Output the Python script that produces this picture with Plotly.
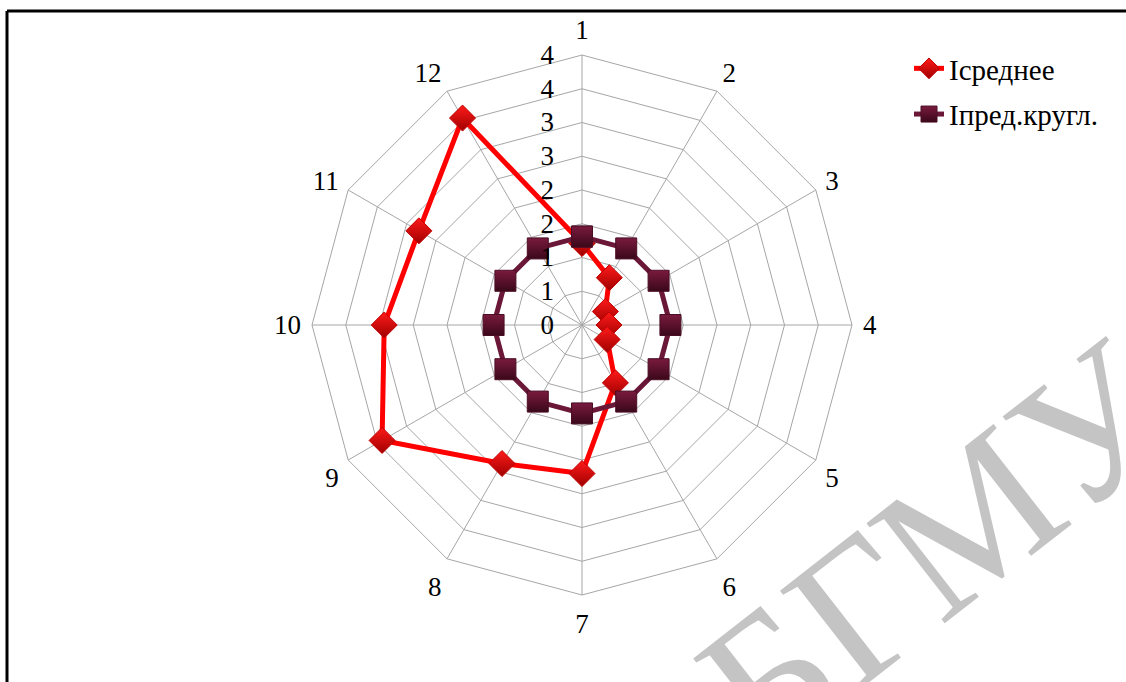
import plotly.graph_objects as go

categories = ["1", "2", "3", "4", "5", "6", "7", "8", "9", "10", "11", "12"]
i_srednee = [1.21, 0.81, 0.40, 0.40, 0.43, 0.99, 2.20, 2.37, 3.42, 2.93, 2.79, 3.54]
i_pred = [1.31, 1.31, 1.31, 1.31, 1.31, 1.31, 1.31, 1.31, 1.31, 1.31, 1.31, 1.31]
radial_tickvals = [0, 0.5, 1.0, 1.5, 2.0, 2.5, 3.0, 3.5, 4.0]
radial_ticktext = ["0", "1", "1", "2", "2", "3", "3", "4", "4"]
series_names = ["Iсреднее", "Iпред.кругл."]
watermark = "БГМУ"

W, H = 1126, 682
cx, cy, R = 582, 325, 270

theta_closed = categories + categories[:1]

fig = go.Figure()
fig.add_trace(go.Scatterpolar(
    r=i_srednee + i_srednee[:1], theta=theta_closed, name=series_names[0],
    mode="lines+markers",
    line=dict(color="#ff0000", width=5),
    marker=dict(symbol="diamond", size=20, color="#ff1a1a",
                gradient=dict(type="vertical", color="#a00000"),
                line=dict(color="#c00000", width=1)),
    legendgroup="a",
))
fig.add_trace(go.Scatterpolar(
    r=i_pred + i_pred[:1], theta=theta_closed, name=series_names[1],
    mode="lines+markers",
    line=dict(color="#6b1838", width=5),
    marker=dict(symbol="square", size=21, color="#7a1a3e",
                gradient=dict(type="vertical", color="#3a0819"),
                line=dict(color="#4a0e26", width=1)),
    legendgroup="b",
))

serif = "Liberation Serif"
fig.update_layout(
    width=W, height=H,
    margin=dict(l=0, r=0, t=0, b=0),
    paper_bgcolor="white",
    plot_bgcolor="white",
    showlegend=True,
    legend=dict(x=909 / W, y=1 - 43 / H, xanchor="left", yanchor="top",
                font=dict(family=serif, size=29, color="black"),
                bgcolor="rgba(0,0,0,0)", tracegroupgap=5, itemwidth=30),
    polar=dict(
        domain=dict(x=[(cx - R) / W, (cx + R) / W], y=[(H - cy - R) / H, (H - cy + R) / H]),
        bgcolor="white",
        gridshape="linear",
        angularaxis=dict(
            type="category", categoryarray=categories,
            rotation=90, direction="clockwise",
            showline=True, linecolor="#a6a6a6", linewidth=1,
            gridcolor="#a6a6a6", gridwidth=1,
            ticks="outside", ticklen=5, tickcolor="rgba(0,0,0,0)",
            tickfont=dict(family=serif, size=27, color="black"),
        ),
        radialaxis=dict(
            range=[0, 4], angle=90, tickangle=90,
            tickvals=radial_tickvals, ticktext=radial_ticktext,
            showline=False, gridcolor="#a6a6a6", gridwidth=1,
            ticks="outside", ticklen=18, tickcolor="rgba(0,0,0,0)",
            side="counterclockwise",
            tickfont=dict(family=serif, size=27, color="black"),
        ),
    ),
    shapes=[
        dict(type="line", xref="paper", yref="paper", x0=7 / W, x1=1.0, y0=1 - 11 / H, y1=1 - 11 / H,
             line=dict(color="black", width=3)),
        dict(type="line", xref="paper", yref="paper", x0=7 / W, x1=7 / W, y0=1 - 11 / H, y1=0,
             line=dict(color="black", width=3)),
    ],
    annotations=[
        dict(text=watermark, xref="paper", yref="paper", x=935 / W, y=1 - 547 / H,
             xanchor="center", yanchor="middle", showarrow=False, textangle=-38,
             font=dict(family=serif, size=194, color="rgb(196,196,196)")),
    ],
)

fig.write_html("out.html")
